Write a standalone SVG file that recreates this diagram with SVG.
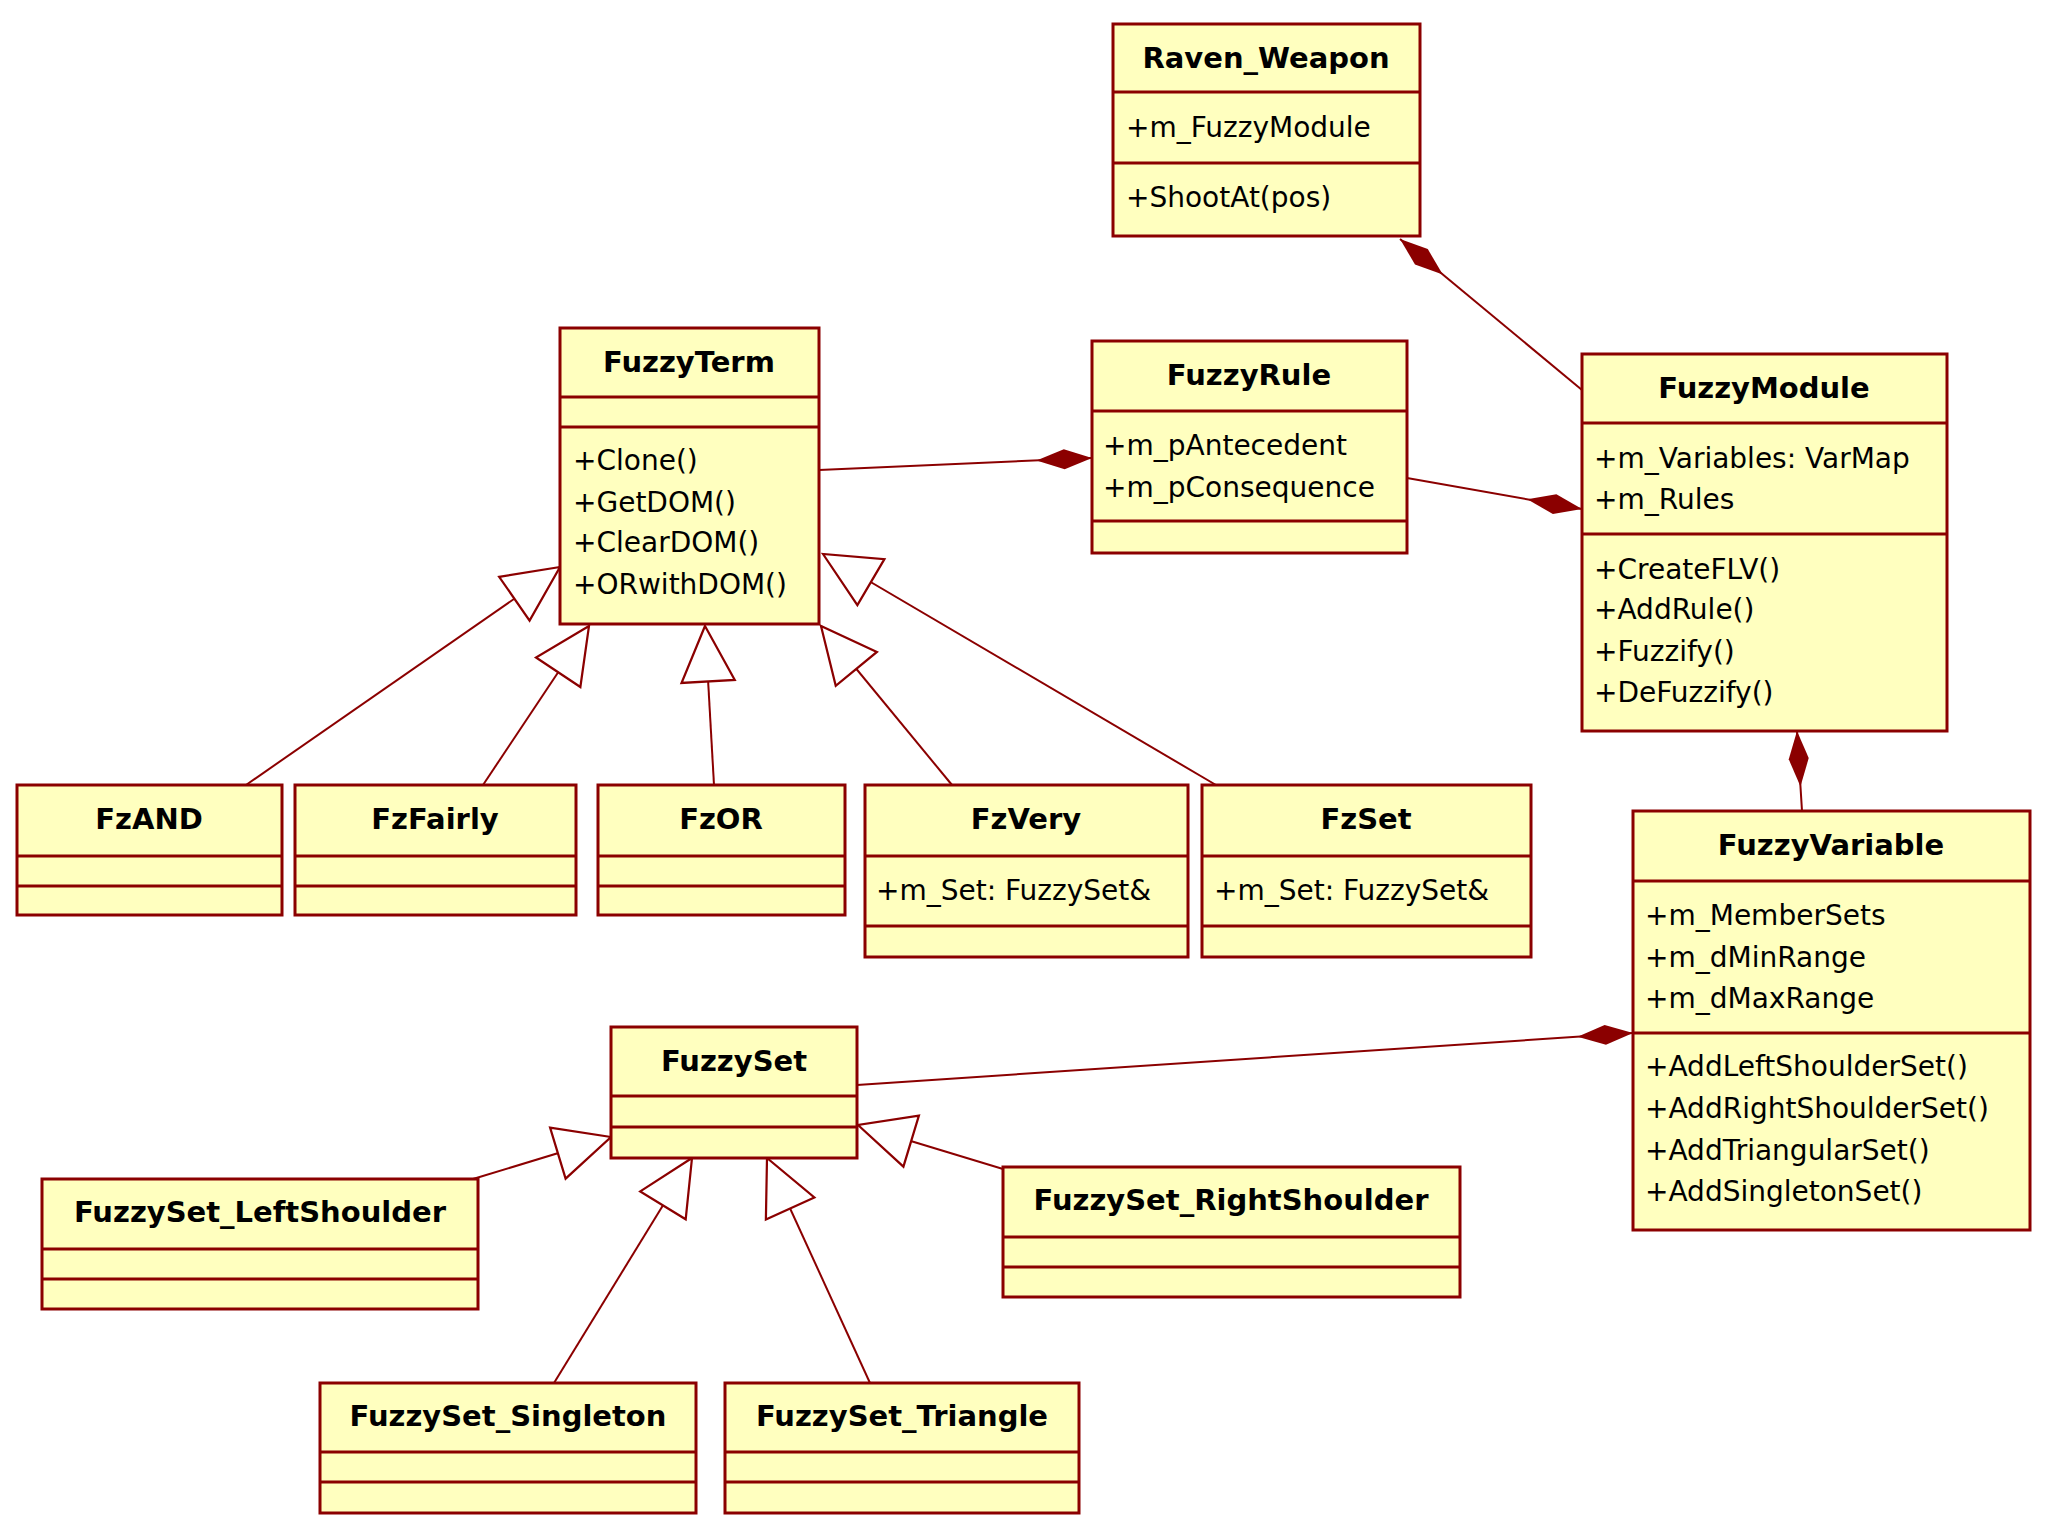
<svg xmlns="http://www.w3.org/2000/svg" width="2048" height="1536" viewBox="0 0 2048 1536">
<defs>
<style>
.b{fill:#ffffbf;stroke:#8b0000;stroke-width:3}
.d{stroke:#8b0000;stroke-width:3}
.n{font-family:"DejaVu Sans",sans-serif;font-weight:bold;font-size:29px;fill:#000;text-anchor:middle}
.t{font-family:"DejaVu Sans",sans-serif;font-size:28px;fill:#000}
.c{stroke:#8b0000;stroke-width:2;fill:none}
</style>
<marker id="tri" markerUnits="userSpaceOnUse" markerWidth="60" markerHeight="60" viewBox="-52 -27 54 54" refX="0" refY="0" orient="auto"><path d="M0,0 L-50,-24 L-50,24 Z" fill="#fff" stroke="#8b0000" stroke-width="2"/></marker>
<marker id="dia" markerUnits="userSpaceOnUse" markerWidth="60" markerHeight="30" viewBox="-52 -12 54 24" refX="0" refY="0" orient="auto"><path d="M0,0 L-25,-9 L-50,0 L-25,9 Z" fill="#8b0000"/></marker>
</defs>
<rect width="2048" height="1536" fill="#fff"/>
<g id="connectors">
<line class="c" x1="1582" y1="390" x2="1400" y2="239" marker-end="url(#dia)"/>
<line class="c" x1="819" y1="470" x2="1092" y2="458" marker-end="url(#dia)"/>
<line class="c" x1="1407" y1="478" x2="1582" y2="509" marker-end="url(#dia)"/>
<line class="c" x1="1802" y1="811" x2="1797" y2="731" marker-end="url(#dia)"/>
<line class="c" x1="857" y1="1085" x2="1633" y2="1033" marker-end="url(#dia)"/>
<line class="c" x1="246" y1="785" x2="560" y2="567" marker-end="url(#tri)"/>
<line class="c" x1="483" y1="785" x2="589" y2="626" marker-end="url(#tri)"/>
<line class="c" x1="714" y1="785" x2="705" y2="626" marker-end="url(#tri)"/>
<line class="c" x1="952" y1="785" x2="821" y2="626" marker-end="url(#tri)"/>
<line class="c" x1="1216" y1="785" x2="823" y2="554" marker-end="url(#tri)"/>
<line class="c" x1="473" y1="1179" x2="611" y2="1137" marker-end="url(#tri)"/>
<line class="c" x1="1003" y1="1169" x2="858" y2="1125" marker-end="url(#tri)"/>
<line class="c" x1="554" y1="1383" x2="692" y2="1158" marker-end="url(#tri)"/>
<line class="c" x1="870" y1="1383" x2="767" y2="1158" marker-end="url(#tri)"/>
</g>
<g id="Raven_Weapon"><rect class="b" x="1113" y="24" width="307" height="212"/><line class="d" x1="1113" y1="92" x2="1420" y2="92"/><line class="d" x1="1113" y1="163" x2="1420" y2="163"/>
<text class="n" x="1266" y="68">Raven_Weapon</text><text class="t" x="1126" y="137">+m_FuzzyModule</text><text class="t" x="1126" y="207">+ShootAt(pos)</text></g>
<g id="FuzzyTerm"><rect class="b" x="560" y="328" width="259" height="296"/><line class="d" x1="560" y1="397" x2="819" y2="397"/><line class="d" x1="560" y1="427" x2="819" y2="427"/>
<text class="n" x="689" y="372">FuzzyTerm</text><text class="t" x="573" y="470">+Clone()</text><text class="t" x="573" y="512">+GetDOM()</text><text class="t" x="573" y="552">+ClearDOM()</text><text class="t" x="573" y="594">+ORwithDOM()</text></g>
<g id="FuzzyRule"><rect class="b" x="1092" y="341" width="315" height="212"/><line class="d" x1="1092" y1="411" x2="1407" y2="411"/><line class="d" x1="1092" y1="521" x2="1407" y2="521"/>
<text class="n" x="1249" y="385">FuzzyRule</text><text class="t" x="1103" y="455">+m_pAntecedent</text><text class="t" x="1103" y="497">+m_pConsequence</text></g>
<g id="FuzzyModule"><rect class="b" x="1582" y="354" width="365" height="377"/><line class="d" x1="1582" y1="423" x2="1947" y2="423"/><line class="d" x1="1582" y1="534" x2="1947" y2="534"/>
<text class="n" x="1764" y="398">FuzzyModule</text><text class="t" x="1594" y="468">+m_Variables: VarMap</text><text class="t" x="1594" y="509">+m_Rules</text>
<text class="t" x="1594" y="579">+CreateFLV()</text><text class="t" x="1594" y="619">+AddRule()</text><text class="t" x="1594" y="661">+Fuzzify()</text><text class="t" x="1594" y="702">+DeFuzzify()</text></g>
<g id="FuzzyVariable"><rect class="b" x="1633" y="811" width="397" height="419"/><line class="d" x1="1633" y1="881" x2="2030" y2="881"/><line class="d" x1="1633" y1="1033" x2="2030" y2="1033"/>
<text class="n" x="1831" y="855">FuzzyVariable</text><text class="t" x="1645" y="925">+m_MemberSets</text><text class="t" x="1645" y="967">+m_dMinRange</text><text class="t" x="1645" y="1008">+m_dMaxRange</text>
<text class="t" x="1645" y="1076">+AddLeftShoulderSet()</text><text class="t" x="1645" y="1118">+AddRightShoulderSet()</text><text class="t" x="1645" y="1160">+AddTriangularSet()</text><text class="t" x="1645" y="1201">+AddSingletonSet()</text></g>
<g id="FzAND"><rect class="b" x="17" y="785" width="265" height="130"/><line class="d" x1="17" y1="856" x2="282" y2="856"/><line class="d" x1="17" y1="886" x2="282" y2="886"/><text class="n" x="149" y="829">FzAND</text></g>
<g id="FzFairly"><rect class="b" x="295" y="785" width="281" height="130"/><line class="d" x1="295" y1="856" x2="576" y2="856"/><line class="d" x1="295" y1="886" x2="576" y2="886"/><text class="n" x="435" y="829">FzFairly</text></g>
<g id="FzOR"><rect class="b" x="598" y="785" width="247" height="130"/><line class="d" x1="598" y1="856" x2="845" y2="856"/><line class="d" x1="598" y1="886" x2="845" y2="886"/><text class="n" x="721" y="829">FzOR</text></g>
<g id="FzVery"><rect class="b" x="865" y="785" width="323" height="172"/><line class="d" x1="865" y1="856" x2="1188" y2="856"/><line class="d" x1="865" y1="926" x2="1188" y2="926"/><text class="n" x="1026" y="829">FzVery</text><text class="t" x="876" y="900">+m_Set: FuzzySet&amp;</text></g>
<g id="FzSet"><rect class="b" x="1202" y="785" width="329" height="172"/><line class="d" x1="1202" y1="856" x2="1531" y2="856"/><line class="d" x1="1202" y1="926" x2="1531" y2="926"/><text class="n" x="1366" y="829">FzSet</text><text class="t" x="1214" y="900">+m_Set: FuzzySet&amp;</text></g>
<g id="FuzzySet"><rect class="b" x="611" y="1027" width="246" height="131"/><line class="d" x1="611" y1="1096" x2="857" y2="1096"/><line class="d" x1="611" y1="1127" x2="857" y2="1127"/><text class="n" x="734" y="1071">FuzzySet</text></g>
<g id="FuzzySet_LeftShoulder"><rect class="b" x="42" y="1179" width="436" height="130"/><line class="d" x1="42" y1="1249" x2="478" y2="1249"/><line class="d" x1="42" y1="1279" x2="478" y2="1279"/><text class="n" x="260" y="1222">FuzzySet_LeftShoulder</text></g>
<g id="FuzzySet_RightShoulder"><rect class="b" x="1003" y="1167" width="457" height="130"/><line class="d" x1="1003" y1="1237" x2="1460" y2="1237"/><line class="d" x1="1003" y1="1267" x2="1460" y2="1267"/><text class="n" x="1231" y="1210">FuzzySet_RightShoulder</text></g>
<g id="FuzzySet_Singleton"><rect class="b" x="320" y="1383" width="376" height="130"/><line class="d" x1="320" y1="1452" x2="696" y2="1452"/><line class="d" x1="320" y1="1482" x2="696" y2="1482"/><text class="n" x="508" y="1426">FuzzySet_Singleton</text></g>
<g id="FuzzySet_Triangle"><rect class="b" x="725" y="1383" width="354" height="130"/><line class="d" x1="725" y1="1452" x2="1079" y2="1452"/><line class="d" x1="725" y1="1482" x2="1079" y2="1482"/><text class="n" x="902" y="1426">FuzzySet_Triangle</text></g>
</svg>
